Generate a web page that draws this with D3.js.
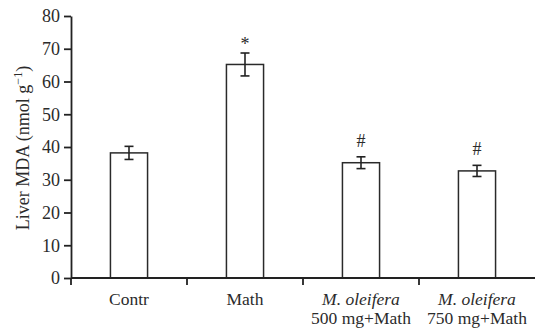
<!DOCTYPE html>
<html>
<head>
<meta charset="utf-8">
<script src="https://cdn.jsdelivr.net/npm/d3@7"></script>
<style>
  body { margin: 0; background: #fff; }
  text { font-family: "Liberation Serif", "Times New Roman", serif; fill: #2b2b2b; }
</style>
</head>
<body>
<div id="chart"></div>
<script>
// values
var groups = ["Contr", "Math", "MO500", "MO750"];
var labelLine1 = ["Contr", "Math", "M. oleifera", "M. oleifera"];
var labelLine2 = ["", "", "500 mg+Math", "750 mg+Math"];
var italicLine1 = [false, false, true, true];
var means = [38.2, 65.2, 35.2, 32.7];
var errors = [2.0, 3.5, 1.8, 1.7];
var marks = ["", "*", "#", "#"];
var yTicks = [0, 10, 20, 30, 40, 50, 60, 70, 80];

var width = 535, height = 328;
var margin = {top: 16, right: 0, bottom: 50, left: 71};

var svg = d3.select("#chart").append("svg")
    .attr("width", width)
    .attr("height", height);

var x = d3.scaleBand()
    .domain(groups)
    .range([margin.left, width - margin.right])
    .paddingInner(0.68)
    .paddingOuter(0.34);

var y = d3.scaleLinear()
    .domain([0, 80])
    .range([height - margin.bottom, margin.top]);

var step = x.step();
var bandStart = function(d) { return x(d) - step * 0.34; };

// bars
svg.selectAll("rect.bar")
    .data(groups)
    .enter()
    .append("rect")
    .attr("class", "bar")
    .attr("x", function(d) { return x(d); })
    .attr("y", function(d, i) { return y(means[i]); })
    .attr("width", x.bandwidth())
    .attr("height", function(d, i) { return y(0) - y(means[i]); })
    .attr("fill", "#fff")
    .attr("stroke", "#2a2a2a")
    .attr("stroke-width", 1.5);

// error bars
var eb = svg.selectAll("g.err")
    .data(groups)
    .enter()
    .append("g")
    .attr("class", "err")
    .attr("stroke", "#222")
    .attr("stroke-width", 1.6);

eb.append("line")
    .attr("x1", function(d) { return x(d) + x.bandwidth() / 2; })
    .attr("x2", function(d) { return x(d) + x.bandwidth() / 2; })
    .attr("y1", function(d, i) { return y(means[i] + errors[i]); })
    .attr("y2", function(d, i) { return y(means[i] - errors[i]); });

eb.append("line")
    .attr("x1", function(d) { return x(d) + x.bandwidth() / 2 - 4.5; })
    .attr("x2", function(d) { return x(d) + x.bandwidth() / 2 + 4.5; })
    .attr("y1", function(d, i) { return y(means[i] + errors[i]); })
    .attr("y2", function(d, i) { return y(means[i] + errors[i]); });

eb.append("line")
    .attr("x1", function(d) { return x(d) + x.bandwidth() / 2 - 4.5; })
    .attr("x2", function(d) { return x(d) + x.bandwidth() / 2 + 4.5; })
    .attr("y1", function(d, i) { return y(means[i] - errors[i]); })
    .attr("y2", function(d, i) { return y(means[i] - errors[i]); });

// significance marks
svg.selectAll("text.mark")
    .data(groups)
    .enter()
    .append("text")
    .attr("class", "mark")
    .attr("x", function(d) { return x(d) + x.bandwidth() / 2; })
    .attr("y", function(d, i) {
        var off = marks[i] == "*" ? 3 : 10;
        return y(means[i] + errors[i]) - off;
    })
    .attr("text-anchor", "middle")
    .style("font-size", "18px")
    .text(function(d, i) { return marks[i]; });

// y axis
var yAxis = d3.axisLeft(y)
    .tickValues(yTicks)
    .tickSize(7)
    .tickSizeOuter(0)
    .tickPadding(4);

var gy = svg.append("g")
    .attr("transform", "translate(" + margin.left + ",0)")
    .call(yAxis);
gy.select(".domain").attr("stroke", "#222").attr("stroke-width", 1.8);
gy.selectAll(".tick line").attr("stroke", "#222").attr("stroke-width", 1.8);
gy.selectAll(".tick text")
    .style("font-size", "18px")
    .style("font-family", "'Liberation Serif', serif")
    .attr("fill", "#2b2b2b");

// x axis line and ticks at band edges
var xBase = y(0);
svg.append("line")
    .attr("x1", margin.left)
    .attr("x2", width)
    .attr("y1", xBase)
    .attr("y2", xBase)
    .attr("stroke", "#222")
    .attr("stroke-width", 1.8);

svg.selectAll("line.xtick")
    .data(groups)
    .enter()
    .append("line")
    .attr("class", "xtick")
    .attr("x1", bandStart)
    .attr("x2", bandStart)
    .attr("y1", xBase)
    .attr("y2", xBase + 7)
    .attr("stroke", "#222")
    .attr("stroke-width", 1.8);

// category labels
svg.selectAll("text.cat1")
    .data(groups)
    .enter()
    .append("text")
    .attr("class", "cat1")
    .attr("x", function(d) { return x(d) + x.bandwidth() / 2; })
    .attr("y", 305)
    .attr("text-anchor", "middle")
    .style("font-size", "17.5px")
    .style("font-style", function(d, i) { return italicLine1[i] ? "italic" : "normal"; })
    .text(function(d, i) { return labelLine1[i]; });

svg.selectAll("text.cat2")
    .data(groups)
    .enter()
    .append("text")
    .attr("class", "cat2")
    .attr("x", function(d) { return x(d) + x.bandwidth() / 2; })
    .attr("y", 324)
    .attr("text-anchor", "middle")
    .style("font-size", "17.5px")
    .text(function(d, i) { return labelLine2[i]; });

// y axis title
var title = svg.append("text")
    .attr("transform", "translate(29,148) rotate(-90)")
    .attr("text-anchor", "middle")
    .style("font-size", "18px");
title.append("tspan").text("Liver MDA (nmol g");
title.append("tspan").attr("dy", -7).style("font-size", "12px").text("\u22121");
title.append("tspan").attr("dy", 7).text(")");
</script>
</body>
</html>
